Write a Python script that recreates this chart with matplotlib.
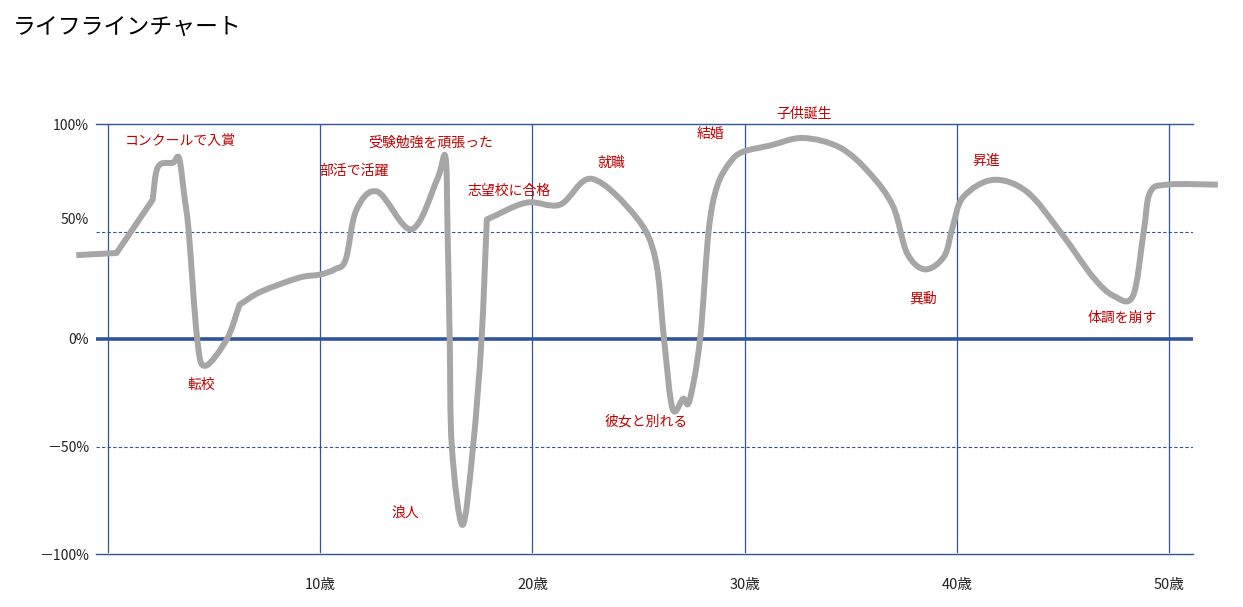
import numpy as np
import matplotlib
matplotlib.use("Agg")
import matplotlib.pyplot as plt
from matplotlib.path import Path
from matplotlib.patches import PathPatch
from matplotlib.transforms import ScaledTranslation

plt.rcParams['font.family'] = ['Noto Sans CJK JP', 'DejaVu Sans']

title = "ライフラインチャート"

# life line (age, satisfaction %)
ages = [-1.5, 0.4, 2.1, 2.26, 2.5, 3.06, 3.35, 3.6, 3.8, 4.2, 4.57, 5.6, 6.2,
        7.2, 9.0, 10.0, 10.7, 11.2, 11.7, 12.7, 14.3, 15.5, 15.9, 16.0, 16.1, 16.2,
        16.7, 17.2, 17.6, 17.85, 19.7, 21.3, 22.8, 24.9, 25.8, 26.2, 26.6,
        27.1, 27.4, 27.9, 28.3, 28.7, 29.3, 29.9, 31.2, 32.75, 34.5, 35.9, 37.0,
        37.65, 38.5, 39.4, 39.8, 40.3, 41.7, 43.3, 44.9, 46.4, 47.4, 48.3, 48.8,
        49.1, 49.9, 52.3]
scores = [39, 40, 64.8, 77.3, 81.5, 82, 84, 66, 50, 0, -12.5, 0, 16,
          22, 28.5, 30, 32.5, 37, 60, 68.5, 51, 74, 84.7, 50, 0, -50,
          -86.5, -50, 0, 55.6, 63.4, 62.5, 74.5, 56.5, 37, 0, -32.4,
          -27.8, -28.7, 0, 50, 71, 82, 87, 90, 93.5, 89, 77, 61.6,
          40, 32.4, 38.4, 52, 66, 74, 68.5, 49.5, 29, 20, 20, 49.5,
          68, 71.8, 71.8]
# points where the line bends sharply instead of smoothly
corner_ages = [0.4, 2.1, 6.2, 17.85]

events = ["コンクールで入賞", "転校", "部活で活躍", "受験勉強を頑張った", "浪人",
          "志望校に合格", "就職", "彼女と別れる", "結婚", "子供誕生", "異動",
          "昇進", "体調を崩す"]
event_ages = [3.4, 4.4, 11.6, 15.2, 14.0, 18.9, 23.7, 25.35, 28.4, 32.8, 38.4, 41.4, 47.8]
event_scores = [92.6, -21.3, 78.2, 91.2, -80.6, 69, 82, -38.4, 95.4, 104.6, 19, 82.9, 9.7]

age_ticks = [10, 20, 30, 40, 50]
age_labels = ["10歳", "20歳", "30歳", "40歳", "50歳"]
score_ticks = [100, 50, 0, -50, -100]
score_labels = ["100%", "50%", "0%", "－50%", "－100%"]

blue = "#2F5597"
red = "#C00000"
gray = "#A6A6A6"


def smooth_path(xs, ys, corners):
    # catmull-rom through the points as cubic bezier segments, straight handles at corners
    pts = np.column_stack([xs, ys]).astype(float)
    n = len(pts)
    sharp = [x in corners for x in xs]
    verts = [pts[0]]
    codes = [Path.MOVETO]
    for i in range(n - 1):
        p0 = pts[i - 1] if i > 0 else pts[i]
        p1 = pts[i]
        p2 = pts[i + 1]
        p3 = pts[i + 2] if i + 2 < n else pts[i + 1]
        if sharp[i]:
            c1 = p1 + (p2 - p1) / 3.0
        else:
            c1 = p1 + (p2 - p0) / 6.0
        if sharp[i + 1]:
            c2 = p2 - (p2 - p1) / 3.0
        else:
            c2 = p2 - (p3 - p1) / 6.0
        verts += [c1, c2, p2]
        codes += [Path.CURVE4] * 3
    return Path(verts, codes)


fig = plt.figure(figsize=(12.43, 6.07), dpi=100)
ax = fig.add_axes([96 / 1243, 1 - 554 / 607, (1193 - 96) / 1243, (554 - 124) / 607])
ax.set_xlim(-0.57, 51.13)
ax.set_ylim(-100, 100)

for s in ax.spines.values():
    s.set_visible(False)

# grid
for a in range(0, 51, 10):
    ax.plot([a, a], [-99, 100], color=blue, lw=0.9, zorder=1)
ax.axhline(100, color=blue, lw=1.0, zorder=1, clip_on=False)
ax.axhline(-100, color=blue, lw=1.0, zorder=1, clip_on=False)
ax.axhline(50, color=blue, lw=0.8, ls=(0, (3, 2)), zorder=1)
ax.axhline(-50, color=blue, lw=0.8, ls=(0, (3, 2)), zorder=1)
ax.axhline(0, color=blue, lw=2.6, zorder=1)

patch = PathPatch(smooth_path(ages, scores, corner_ages), facecolor="none", edgecolor=gray,
                  lw=4.3, capstyle="butt", joinstyle="round", zorder=3, clip_on=False)
ax.add_patch(patch)

for txt, a, s in zip(events, event_ages, event_scores):
    ax.text(a, s, txt, color=red, fontsize=10, ha="center", va="center",
            zorder=4, clip_on=False)

ax.set_xticks(age_ticks)
ax.set_xticklabels(age_labels, fontsize=10.5, color="#222222")
ax.set_yticks(score_ticks)
ax.set_yticklabels(score_labels, fontsize=10, color="#222222")
ax.tick_params(axis="x", length=0, pad=17)
ax.tick_params(axis="y", length=0, pad=5)

for lab in ax.get_yticklabels():
    if lab.get_text() == "50%":
        lab.set_transform(lab.get_transform() + ScaledTranslation(0, 13 / 100, fig.dpi_scale_trans))

fig.text(13 / 1243, 1 - 27 / 607, title, fontsize=16.5, ha="left", va="center", color="black")

fig.savefig("out.png", dpi=100)
